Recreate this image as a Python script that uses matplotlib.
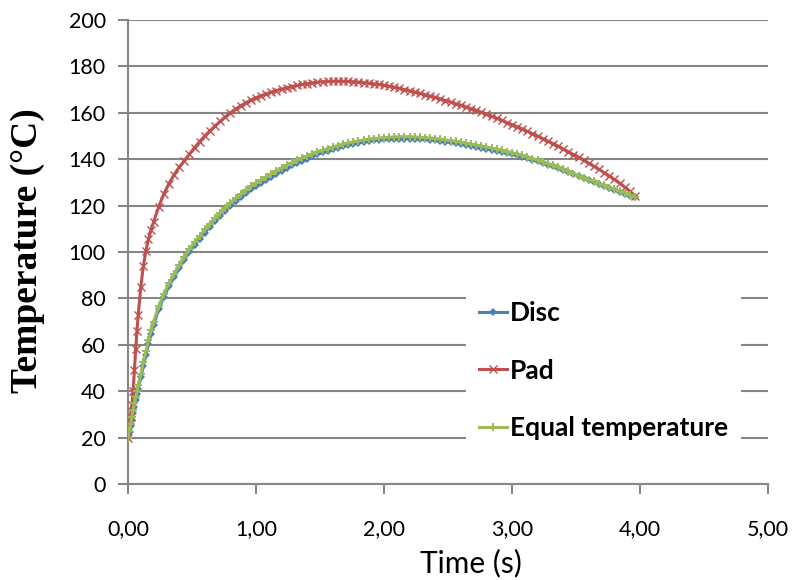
import matplotlib
matplotlib.use("Agg")
import matplotlib.pyplot as plt

time_s = [0.00, 0.01, 0.02, 0.03, 0.04, 0.05, 0.06, 0.07, 0.08, 0.10, 0.12, 0.14, 0.16, 0.18, 0.20,
          0.24, 0.28, 0.32, 0.36, 0.40, 0.44, 0.48, 0.52, 0.56, 0.60, 0.64, 0.68, 0.72, 0.76, 0.80,
          0.84, 0.88, 0.92, 0.96, 1.00, 1.04, 1.08, 1.12, 1.16, 1.20, 1.24, 1.28, 1.32, 1.36, 1.40,
          1.44, 1.48, 1.52, 1.56, 1.60, 1.64, 1.68, 1.72, 1.76, 1.80, 1.84, 1.88, 1.92, 1.96, 2.00,
          2.04, 2.08, 2.12, 2.16, 2.20, 2.24, 2.28, 2.32, 2.36, 2.40, 2.44, 2.48, 2.52, 2.56, 2.60,
          2.64, 2.68, 2.72, 2.76, 2.80, 2.84, 2.88, 2.92, 2.96, 3.00, 3.04, 3.08, 3.12, 3.16, 3.20,
          3.24, 3.28, 3.32, 3.36, 3.40, 3.44, 3.48, 3.52, 3.56, 3.60, 3.64, 3.68, 3.72, 3.76, 3.80,
          3.84, 3.88, 3.92, 3.96]

pad = [20.0, 24.0, 29.0, 34.0, 40.0, 49.0, 58.0, 66.0, 73.0, 85.0, 94.0, 100.5, 105.5, 109.5, 113.0,
       119.5, 125.0, 129.5, 133.3, 136.6, 139.3, 142.2, 145.0, 147.6, 150.0, 152.2, 154.3, 156.3, 158.2, 160.0,
       161.6, 163.0, 164.3, 165.5, 166.5, 167.4, 168.2, 168.9, 169.6, 170.2, 170.8, 171.3, 171.8, 172.2, 172.6,
       172.9, 173.2, 173.4, 173.5, 173.6, 173.6, 173.6, 173.5, 173.4, 173.2, 173.0, 172.8, 172.5, 172.2, 171.8,
       171.4, 171.0, 170.5, 170.0, 169.5, 169.0, 168.4, 167.8, 167.2, 166.6, 166.0, 165.3, 164.6, 163.9, 163.2,
       162.5, 161.8, 161.0, 160.2, 159.4, 158.5, 157.6, 156.7, 155.8, 154.9, 154.0, 153.0, 152.0, 151.0, 150.0,
       148.9, 147.8, 146.7, 145.6, 144.4, 143.2, 142.0, 140.8, 139.5, 138.2, 136.9, 135.6, 134.2, 132.8, 131.3,
       129.7, 128.0, 126.2, 124.3]

equal_temp = [20.0, 23.0, 26.0, 29.0, 32.0, 34.8, 37.5, 40.0, 42.5, 47.5, 52.4, 57.3, 62.0, 66.2, 70.0,
              76.6, 82.0, 86.5, 90.5, 94.2, 97.8, 101.2, 104.2, 107.0, 109.7, 112.2, 114.6, 116.9, 119.1, 121.2,
              123.1, 125.0, 126.7, 128.3, 129.8, 131.2, 132.5, 133.8, 135.0, 136.2, 137.4, 138.5, 139.5, 140.5, 141.4,
              142.3, 143.1, 143.9, 144.6, 145.3, 145.9, 146.5, 147.0, 147.5, 147.9, 148.3, 148.6, 148.9, 149.1, 149.3,
              149.5, 149.6, 149.7, 149.7, 149.7, 149.6, 149.5, 149.3, 149.1, 148.9, 148.6, 148.3, 148.0, 147.7, 147.3,
              146.9, 146.5, 146.1, 145.7, 145.3, 144.8, 144.3, 143.8, 143.3, 142.8, 142.2, 141.6, 141.0, 140.3, 139.6,
              138.9, 138.1, 137.3, 136.5, 135.6, 134.7, 133.8, 132.9, 132.1, 131.2, 130.4, 129.5, 128.7, 127.8, 127.0,
              126.1, 125.3, 124.4, 123.8]

disc = [20.0, 22.0, 24.8, 27.7, 30.6, 33.4, 36.1, 38.6, 41.1, 46.0, 50.9, 55.8, 60.5, 64.7, 68.5,
        75.3, 80.7, 85.2, 89.2, 92.9, 96.5, 99.9, 102.9, 105.7, 108.4, 110.9, 113.3, 115.6, 117.8, 119.9,
        121.8, 123.7, 125.4, 127.0, 128.5, 129.9, 131.2, 132.5, 133.8, 135.0, 136.2, 137.3, 138.3, 139.3, 140.3,
        141.2, 142.1, 142.9, 143.6, 144.3, 145.0, 145.6, 146.1, 146.6, 147.1, 147.5, 147.8, 148.1, 148.3, 148.5,
        148.7, 148.8, 148.9, 148.9, 148.9, 148.8, 148.7, 148.5, 148.3, 148.1, 147.8, 147.5, 147.2, 146.9, 146.6,
        146.2, 145.8, 145.4, 145.0, 144.6, 144.1, 143.6, 143.2, 142.7, 142.2, 141.6, 141.0, 140.4, 139.8, 139.1,
        138.4, 137.7, 136.9, 136.1, 135.2, 134.4, 133.5, 132.6, 131.8, 131.0, 130.1, 129.3, 128.4, 127.6, 126.8,
        125.9, 125.1, 124.3, 123.7]

x_ticks = [0, 1, 2, 3, 4, 5]
x_tick_labels = ["0,00", "1,00", "2,00", "3,00", "4,00", "5,00"]
y_ticks = [0, 20, 40, 60, 80, 100, 120, 140, 160, 180, 200]

BLUE = "#4A7EBB"
RED = "#C0504D"
GREEN = "#9BBB59"
GRID = "#868686"
W, H = 792, 580

fig = plt.figure(figsize=(W/100, H/100), dpi=100)
ax = fig.add_axes([128/W, 1 - 484/H, 640/W, 464/H])

ax.plot(time_s, disc, color=BLUE, lw=2.2, marker="D", ms=4.0, mew=0, label="Disc", zorder=3)
ax.plot(time_s, pad, color=RED, lw=2.2, marker="x", ms=5.5, mew=1.0, label="Pad", zorder=4)
ax.plot(time_s, equal_temp, color=GREEN, lw=2.2, marker="+", ms=6, mew=1.4, label="Equal temperature", zorder=5)

ax.set_xlim(0, 5)
ax.set_ylim(0, 200)
ax.set_xticks(x_ticks)
ax.set_xticklabels(x_tick_labels)
ax.set_yticks(y_ticks)

ax.grid(axis="y", color=GRID, lw=1.5, zorder=0)
ax.set_axisbelow(True)
for s in ["top", "right"]:
    ax.spines[s].set_visible(False)
for s in ["left", "bottom"]:
    ax.spines[s].set_color(GRID)
    ax.spines[s].set_linewidth(1.5)
ax.tick_params(axis="both", colors=GRID, width=1.5, length=7, labelcolor="black", labelsize=15.5)
for lab in ax.get_xticklabels() + ax.get_yticklabels():
    lab.set_family("Lato")
ax.tick_params(axis="x", pad=18)
ax.tick_params(axis="y", pad=9)

fig.text(471/W, 1 - 563/H, "Time (s)", fontsize=21.5, family="Lato", ha="center", va="center")
fig.text(28/W, 1 - 251/H, "Temperature (°C)", rotation=90, fontsize=27, fontweight="bold",
         family="Liberation Serif", ha="center", va="center")

leg = ax.legend(loc="upper left", bbox_to_anchor=((466 - 128)/640, (484 - 288)/464),
                frameon=True, facecolor="white", edgecolor="none", framealpha=1,
                prop={"family": "Lato", "weight": "bold", "size": 19},
                labelspacing=1.27, handlelength=1.05, handletextpad=0.1, borderpad=0.5,
                borderaxespad=0, fancybox=False)
leg.set_zorder(6)

fig.savefig("out.png", dpi=100)
